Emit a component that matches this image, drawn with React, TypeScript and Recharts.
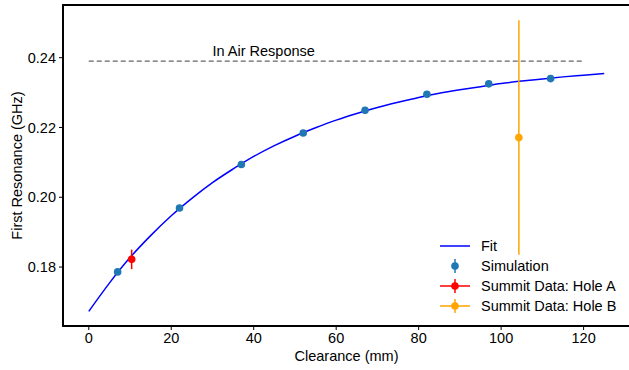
import React from 'react';
import {
  ComposedChart,
  Line,
  Scatter,
  XAxis,
  YAxis,
  ErrorBar,
  ReferenceArea,
  ReferenceDot,
  Legend,
} from 'recharts';

const FONT = '"Liberation Sans", Arial, sans-serif';
const FS = 14.5;

// Fit curve
const fitX = [0, 5, 10, 15, 20, 25, 30, 35, 40, 45, 50, 55, 60, 65, 70, 75, 80, 85, 90, 95, 100, 105, 110, 115, 120, 125];
const fitY = [0.1673, 0.1754, 0.1827, 0.189, 0.1947, 0.1997, 0.2042, 0.2081, 0.2117, 0.2148, 0.2175, 0.2199, 0.2221, 0.224, 0.2257, 0.2272, 0.2286, 0.2298, 0.2308, 0.2317, 0.2326, 0.2333, 0.2339, 0.2345, 0.235, 0.2355];

// Simulation points
const simX = [7, 22, 37, 52, 67, 82, 97, 112];
const simY = [0.1786, 0.1969, 0.2094, 0.2184, 0.2249, 0.2295, 0.2325, 0.234];

// Summit data
const holeAX = [10.4];
const holeAY = [0.1822];
const holeAErr = [0.0028];
const holeBX = [104.3];
const holeBY = [0.2171];
const holeBErr = [0.0336];

// In-air response line
const airX = [0, 120];
const airY = [0.239, 0.239];
const airLabel = 'In Air Response';
const airLabelX = 30;

const xTicks = [0, 20, 40, 60, 80, 100, 120];
const yTicks = [0.18, 0.2, 0.22, 0.24];
const xDomain = [-6.25, 131.25];
const yDomain = [0.1631, 0.2551];

const fitData = fitX.map((x, i) => ({ x, y: fitY[i] }));
const simData = simX.map((x, i) => ({ x, y: simY[i] }));
const holeAData = holeAX.map((x, i) => ({ x, y: holeAY[i], err: holeAErr[i] }));
const holeBData = holeBX.map((x, i) => ({ x, y: holeBY[i], err: holeBErr[i] }));
const airData = airX.map((x, i) => ({ x, y: airY[i] }));

const legendItems = [
  { name: 'Fit', kind: 'line', color: '#0000ff' },
  { name: 'Simulation', kind: 'dot', color: '#1f77b4' },
  { name: 'Summit Data: Hole A', kind: 'both', color: '#ff0000' },
  { name: 'Summit Data: Hole B', kind: 'both', color: '#ffa500' },
];

const LegendContent = () => (
  <div style={{ fontFamily: FONT, fontSize: FS, color: '#000' }}>
    {legendItems.map((it) => (
      <div key={it.name} style={{ display: 'flex', alignItems: 'center', height: 20 }}>
        <svg width={30} height={20} style={{ display: 'block' }}>
          {(it.kind === 'line' || it.kind === 'both') && (
            <line x1={0} y1={10} x2={30} y2={10} stroke={it.color} strokeWidth={1.5} />
          )}
          {(it.kind === 'dot' || it.kind === 'both') && (
            <>
              <line x1={15} y1={3} x2={15} y2={17} stroke={it.color} strokeWidth={1.5} />
              <circle cx={15} cy={10} r={3.8} fill={it.color} />
            </>
          )}
        </svg>
        <span style={{ marginLeft: 11, lineHeight: '20px' }}>{it.name}</span>
      </div>
    ))}
  </div>
);

const dotShape = (color: string) => (p: any) => (
  <circle cx={p.cx} cy={p.cy} r={3.8} fill={color} />
);

const AirLabel = (props: any) => {
  const vb = props.viewBox || {};
  return (
    <text x={vb.x} y={vb.y - 5} textAnchor="start" fontSize={FS} fill="#000" fontFamily={FONT}>
      {airLabel}
    </text>
  );
};

export default function App() {
  return (
    <div style={{ position: 'absolute', left: 0, top: 0, width: 629, height: 370, background: '#fff', overflow: 'hidden' }}>
      <ComposedChart
        width={632}
        height={370}
        margin={{ top: 5, right: 2, left: 0, bottom: 0 }}
        style={{ fontFamily: FONT }}
      >
        <XAxis
          dataKey="x"
          type="number"
          domain={xDomain}
          ticks={xTicks}
          allowDataOverflow
          height={44}
          tickSize={4}
          tickMargin={3}
          stroke="#000"
          axisLine={{ stroke: '#000', strokeWidth: 1.8 }}
          tick={{ fill: '#000', fontSize: FS }}
          label={{ value: 'Clearance (mm)', position: 'insideBottom', offset: 9, fill: '#000', fontSize: FS }}
        />
        <YAxis
          dataKey="y"
          type="number"
          domain={yDomain}
          ticks={yTicks}
          allowDataOverflow
          width={63}
          tickSize={4}
          tickMargin={3}
          stroke="#000"
          axisLine={{ stroke: '#000', strokeWidth: 1.8 }}
          tick={{ fill: '#000', fontSize: FS }}
          tickFormatter={(v: number) => v.toFixed(2)}
          label={{
            value: 'First Resonance (GHz)',
            angle: -90,
            position: 'insideLeft',
            offset: 17,
            fill: '#000',
            fontSize: FS,
            style: { textAnchor: 'middle' },
          }}
        />
        <ReferenceArea
          x1={xDomain[0]}
          x2={xDomain[1]}
          y1={yDomain[0]}
          y2={yDomain[1]}
          fill="none"
          stroke="#000"
          strokeWidth={1.8}
          ifOverflow="visible"
        />
        <Line
          data={fitData}
          dataKey="y"
          type="monotone"
          stroke="#0000ff"
          strokeWidth={1.5}
          dot={false}
          activeDot={false}
          isAnimationActive={false}
          legendType="none"
        />
        <Line
          data={airData}
          dataKey="y"
          type="linear"
          stroke="#666"
          strokeWidth={1.2}
          strokeDasharray="5 3"
          dot={false}
          activeDot={false}
          isAnimationActive={false}
          legendType="none"
        />
        <ReferenceDot x={airLabelX} y={airY[0]} r={0} fill="none" stroke="none" label={<AirLabel />} />
        <Scatter data={simData} dataKey="y" fill="#1f77b4" shape={dotShape('#1f77b4')} isAnimationActive={false} />
        <Scatter data={holeAData} dataKey="y" fill="#ff0000" shape={dotShape('#ff0000')} isAnimationActive={false}>
          <ErrorBar dataKey="err" direction="y" width={0} stroke="#ff0000" strokeWidth={1.5} />
        </Scatter>
        <Scatter data={holeBData} dataKey="y" fill="#ffa500" shape={dotShape('#ffa500')} isAnimationActive={false}>
          <ErrorBar dataKey="err" direction="y" width={0} stroke="#ffa500" strokeWidth={1.5} />
        </Scatter>
        <Legend
          layout="vertical"
          align="center"
          verticalAlign="middle"
          content={<LegendContent />}
          wrapperStyle={{ left: 440, top: 236, width: 190 }}
        />
      </ComposedChart>
    </div>
  );
}
